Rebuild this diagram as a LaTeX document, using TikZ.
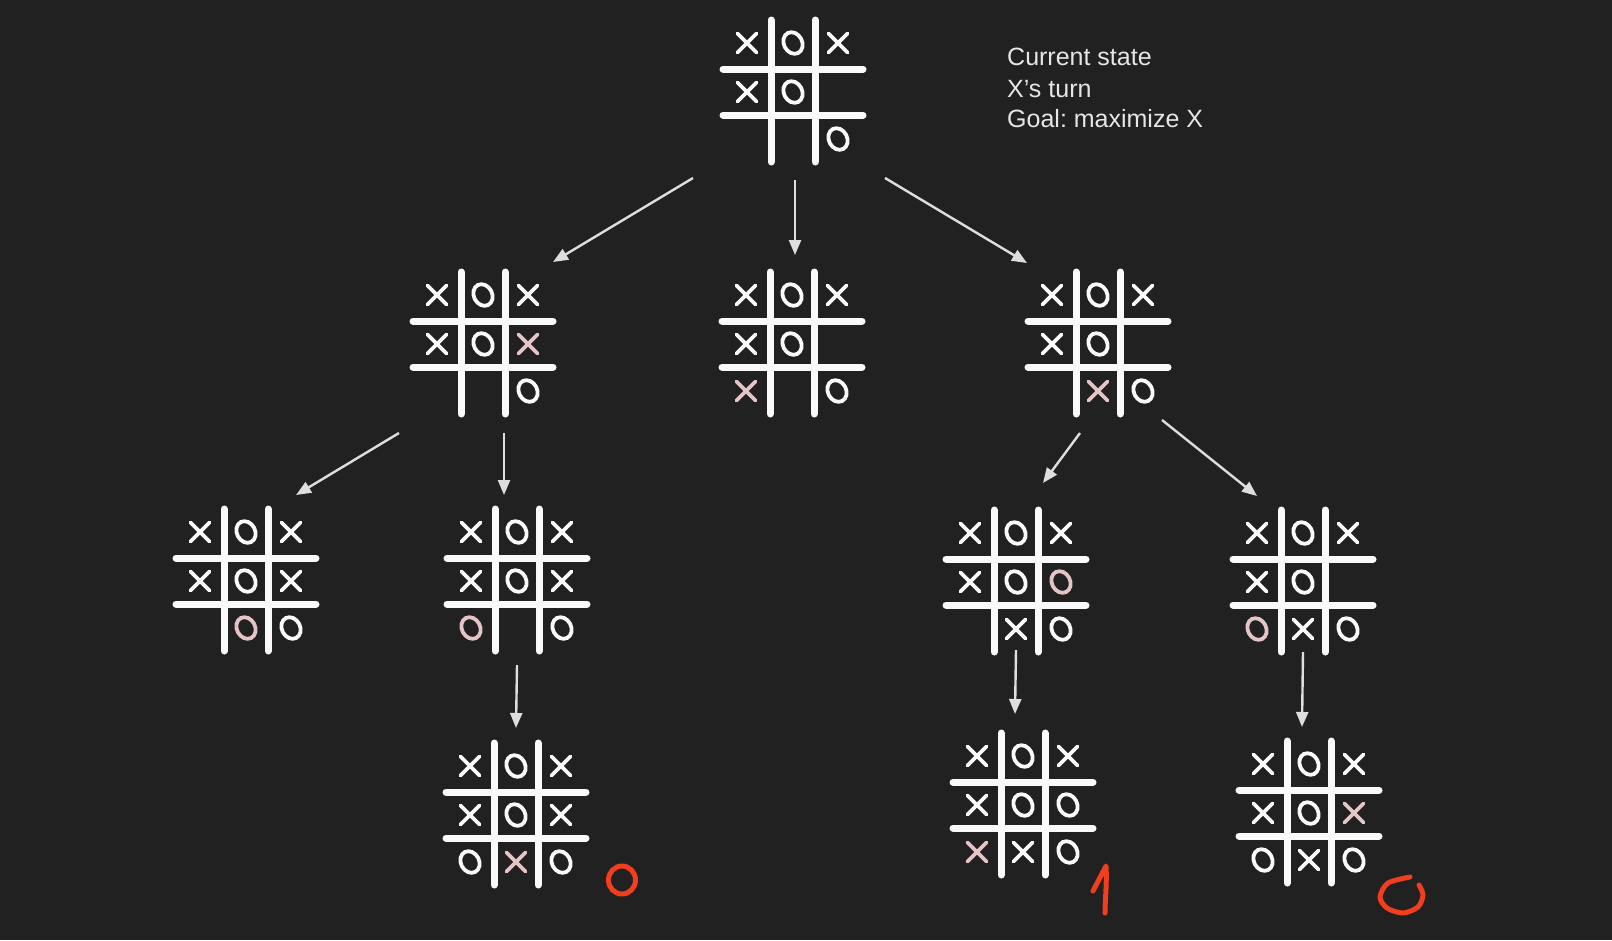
\documentclass[tikz,border=0pt]{standalone}
\usepackage{fontspec}
\setmainfont{Liberation Sans}
\usetikzlibrary{arrows.meta}
\frenchspacing
\definecolor{bg}{RGB}{33,33,33}
\definecolor{fg}{RGB}{250,250,250}
\definecolor{pk}{RGB}{228,196,196}
\definecolor{arr}{RGB}{222,222,222}
\definecolor{txt}{RGB}{230,230,230}
\definecolor{rd}{RGB}{240,62,30}
\tikzset{
  gridln/.style={draw=fg, line width=7, line cap=round},
  symb/.style={line width=3.8, line cap=round},
  cx/.pic={\draw[symb,fg] (-9.5,-9.5)--(9.5,9.5) (-9.5,9.5)--(9.5,-9.5);},
  cX/.pic={\draw[symb,pk] (-9.5,-9.5)--(9.5,9.5) (-9.5,9.5)--(9.5,-9.5);},
  co/.pic={\draw[symb,fg,xslant=-0.15] (0,0) ellipse [x radius=9.5,y radius=10.8];},
  cO/.pic={\draw[symb,pk,xslant=-0.15] (0,0) ellipse [x radius=9.5,y radius=10.8];},
  cn/.pic={},
  arrow/.style={draw=arr, line width=2.4, -{Triangle[length=15,width=12]}},
  txtst/.style={text=txt, font=\fontsize{25}{31}\selectfont, inner sep=0},
  redst/.style={draw=rd, line width=5, line cap=round, line join=round}
}
\newcommand\tttboard[4]{%
  \coordinate (#1) at (#2,#3);
  \begin{scope}[shift={(#2,#3)}]
    \draw[gridln] (-70,-23) -- (70,-23) (-70,23) -- (70,23) (-22,-72) -- (-22,70) (22,-72) -- (22,70);
    \foreach \s [count=\i from 0] in {#4} {
      \pgfmathtruncatemacro\rr{\i/3}
      \pgfmathtruncatemacro\cc{mod(\i,3)}
      \pgfmathsetmacro\xx{\cc==0 ? -46 : (\cc==1 ? 0 : 45)}
      \pgfmathsetmacro\yy{\rr==0 ? -49 : (\rr==1 ? 0 : 47)}
      \pic at (\xx,\yy) {c\s};
    }
  \end{scope}}
\begin{document}
\begin{tikzpicture}[x=1pt,y=-1pt]
\useasboundingbox (0,0) rectangle (1612,940);
\fill[bg] (0,0) rectangle (1612,940);

\tttboard{T}{793}{92}{x,o,x,x,o,n,n,n,o}
\tttboard{A1}{483}{344}{x,o,x,x,o,X,n,n,o}
\tttboard{A2}{792}{344}{x,o,x,x,o,n,X,n,o}
\tttboard{A3}{1098}{344}{x,o,x,x,o,n,n,X,o}
\tttboard{B1}{246}{581}{x,o,x,x,o,x,n,O,o}
\tttboard{B2}{517}{581}{x,o,x,x,o,x,O,n,o}
\tttboard{C1}{1016}{582}{x,o,x,x,o,O,n,x,o}
\tttboard{C2}{1303}{582}{x,o,x,x,o,n,O,x,o}
\tttboard{D1}{516}{815}{x,o,x,x,o,x,o,X,o}
\tttboard{D2}{1023}{805}{x,o,x,x,o,o,X,x,o}
\tttboard{D3}{1309}{813}{x,o,x,x,o,X,o,x,o}

\node[txtst, anchor=base west] (t1) at (1007,65) {Current state};
\node[txtst, anchor=base west] (t2) at (1007,97) {X’s turn};
\node[txtst, anchor=base west] (t3) at (1007,127) {Goal: maximize X};

\coordinate (a1s) at (693,178);  \coordinate (a1e) at (553,262);
\coordinate (a2s) at (795,180);  \coordinate (a2e) at (795,255);
\coordinate (a3s) at (885,178);  \coordinate (a3e) at (1027,263);
\coordinate (a4s) at (399,433);  \coordinate (a4e) at (296,495);
\coordinate (a5s) at (504,433);  \coordinate (a5e) at (504,495);
\coordinate (a6s) at (1080,433); \coordinate (a6e) at (1043,483);
\coordinate (a7s) at (1162,420); \coordinate (a7e) at (1257,496);
\coordinate (a8s) at (517,665);  \coordinate (a8e) at (516,728);
\coordinate (a9s) at (1016,650); \coordinate (a9e) at (1015,714);
\coordinate (a10s) at (1303,652); \coordinate (a10e) at (1302,727);
\foreach \k in {1,...,10} {\draw[arrow] (a\k s) -- (a\k e);}

\draw[redst] (622,880) ellipse [x radius=13.5, y radius=14];
\draw[redst] (1093,891) -- (1106,866) .. controls (1107,885) and (1105,900) .. (1105,913);
\draw[redst] plot[smooth] coordinates {(1410,877) (1388,883) (1380,897) (1387,908) (1403,913) (1418,907) (1423,895) (1419,885)};
\end{tikzpicture}
\end{document}
